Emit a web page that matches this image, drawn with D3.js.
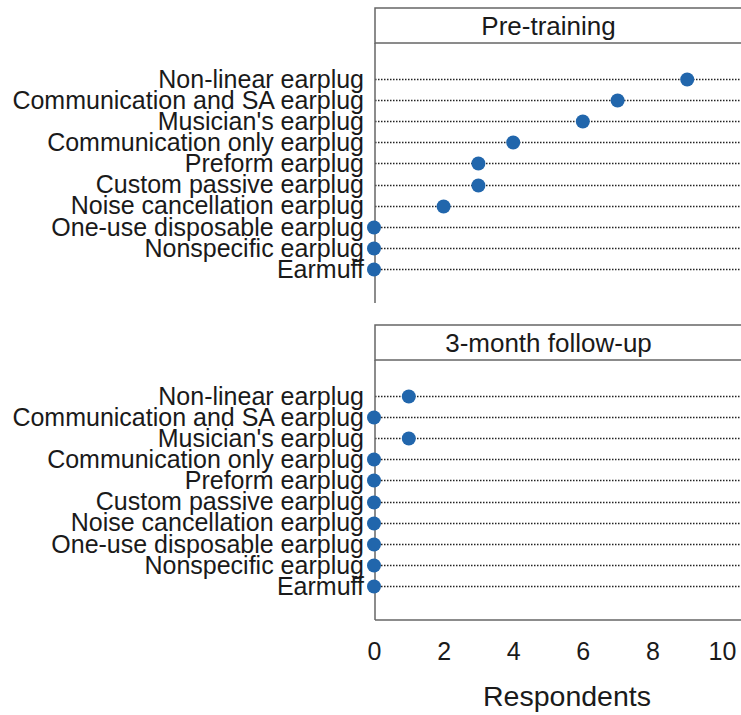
<!DOCTYPE html>
<html>
<head>
<meta charset="utf-8">
<script src="https://cdn.jsdelivr.net/npm/d3@7"></script>
<style>
  body { margin: 0; background: #fff; }
  svg { display: block; font-family: "Liberation Sans", Arial, sans-serif; }
</style>
</head>
<body>
<svg></svg>
<script>
// categories top to bottom
var categories = ["Non-linear earplug", "Communication and SA earplug", "Musician's earplug",
  "Communication only earplug", "Preform earplug", "Custom passive earplug",
  "Noise cancellation earplug", "One-use disposable earplug", "Nonspecific earplug", "Earmuff"];
var panels = ["Pre-training", "3-month follow-up"];
var preTraining = [9, 7, 6, 4, 3, 3, 2, 0, 0, 0];
var followUp = [1, 0, 1, 0, 0, 0, 0, 0, 0, 0];
var xTicks = [0, 2, 4, 6, 8, 10];

var width = 741, height = 715;
var left = 375, right = 748;
var stripH = 35;
var panelTops = [8, 325];   // top of strip boxes
var panelH = 260;

var svg = d3.select("svg").attr("width", width).attr("height", height);

var xScale = d3.scaleLinear().domain([0, 10]).range([left - 1, 722]);

var series = [preTraining, followUp];

panels.forEach(function(name, i) {
  var top = panelTops[i] + stripH;
  var g = svg.append("g");

  var yScale = d3.scalePoint()
    .domain(categories)
    .range([top + 36, top + 226]);

  // strip header
  g.append("rect")
    .attr("x", left).attr("y", panelTops[i])
    .attr("width", right - left).attr("height", stripH)
    .attr("fill", "#fff").attr("stroke", "#666").attr("stroke-width", 1.5);
  g.append("text")
    .attr("x", (left + right) / 2 - 13)
    .attr("y", panelTops[i] + stripH / 2)
    .attr("dy", "0.35em")
    .style("text-anchor", "middle")
    .style("font-size", "26px")
    .attr("fill", "#1a1a1a")
    .text(name);

  // dotted grid lines
  g.selectAll(".grid")
    .data(categories)
    .enter().append("line")
      .attr("x1", left).attr("x2", width)
      .attr("y1", d => Math.round(yScale(d)) + 0.5)
      .attr("y2", d => Math.round(yScale(d)) + 0.5)
      .attr("stroke", "#222").attr("stroke-width", 1.3)
      .attr("stroke-dasharray", "1.5,1.5");

  // left axis line
  g.append("line")
    .attr("x1", left).attr("x2", left)
    .attr("y1", top).attr("y2", top + panelH)
    .attr("stroke", "#666").attr("stroke-width", 1.5);

  // category labels
  g.selectAll(".lab")
    .data(categories)
    .enter().append("text")
      .attr("x", 364)
      .attr("y", d => yScale(d))
      .attr("dy", "0.35em")
      .style("text-anchor", "end")
      .style("font-size", "25px")
      .attr("fill", "#1a1a1a")
      .text(d => d);

  // points
  g.selectAll(".pt")
    .data(series[i])
    .enter().append("circle")
      .attr("cx", d => xScale(d))
      .attr("cy", (d, j) => Math.round(yScale(categories[j])) + 0.5)
      .attr("r", 7)
      .attr("fill", "#2166ac");

  // bottom axis on last panel
  if (i === panels.length - 1) {
    g.append("line")
      .attr("x1", left).attr("x2", width)
      .attr("y1", top + panelH).attr("y2", top + panelH)
      .attr("stroke", "#666").attr("stroke-width", 1.5);

    var xAxis = d3.axisBottom(xScale).tickValues(xTicks).tickSize(0).tickPadding(22);
    var ax = g.append("g")
      .attr("transform", `translate(0, ${top + panelH})`)
      .call(xAxis);
    ax.select(".domain").remove();
    ax.selectAll("text")
      .style("font-size", "25px")
      .style("font-family", "Liberation Sans, Arial, sans-serif")
      .attr("fill", "#1a1a1a");

    svg.append("text")
      .attr("x", 567)
      .attr("y", 706)
      .style("text-anchor", "middle")
      .style("font-size", "28.5px")
      .attr("fill", "#1a1a1a")
      .text("Respondents");
  }
});
</script>
</body>
</html>
